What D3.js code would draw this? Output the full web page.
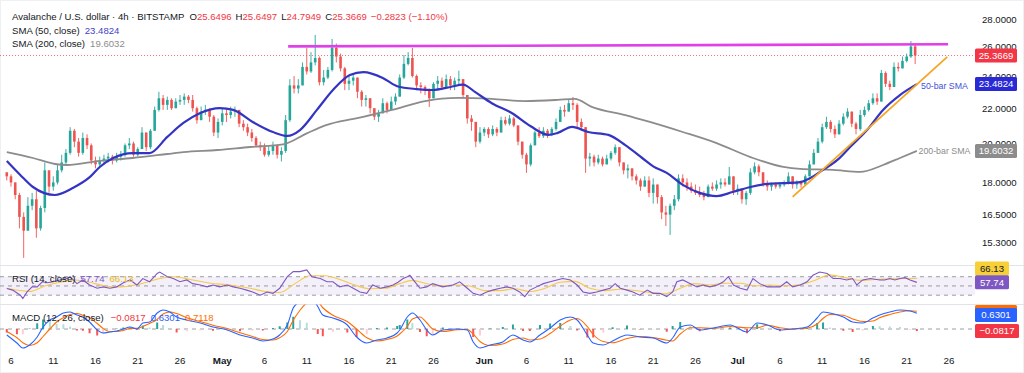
<!DOCTYPE html>
<html><head><meta charset="utf-8">
<script src="https://cdn.jsdelivr.net/npm/d3@7"></script>
<style>
body{margin:0;background:#fff;}
svg{display:block;font-family:"Liberation Sans",Arial,sans-serif;}
</style>
</head><body>
<svg id="c" width="1024" height="373"></svg>
<script>
// ---------------- DATA ----------------
const candleStartUTC = Date.UTC(2025,3,5,12);   // first 12h bar (Apr 5, 12:00)
const barHours = 12;
const firstOpen = 18.5;
const closes = [
18.3,18.0,17.4,16.4,15.8,16.9,17.2,15.9,16.8,18.6, 17.8,18.0,18.6,19.0,19.5,20.7,20.1,19.5,20.3,19.9,
19.1,18.9,19.1,19.2,19.3,19.1,19.3,19.4,19.9,20.0, 19.4,19.7,20.6,19.8,20.7,21.9,22.6,22.2,22.5,22.0,
22.4,22.5,22.7,22.5,22.0,21.3,21.8,21.9,21.5,20.6, 21.2,21.7,21.6,21.8,21.9,21.1,20.9,20.6,20.3,19.9,
19.8,19.4,19.6,19.9,19.4,19.6,21.3,23.4,23.2,23.4, 24.6,24.3,24.9,25.2,23.6,23.9,24.4,25.9,25.3,24.5,
23.5,23.7,23.9,23.0,22.5,22.6,22.0,21.5,21.7,22.3, 21.9,22.4,22.7,23.9,24.8,25.2,24.0,23.4,23.3,23.1,
22.6,23.5,23.7,23.3,23.8,23.4,23.7,23.8,22.8,21.4, 21.2,20.1,20.6,20.8,20.5,20.8,20.6,21.3,21.1,21.4,
21.0,20.1,19.4,18.9,19.9,20.6,20.4,20.7,20.5,20.8, 21.2,21.9,21.8,22.3,22.2,21.2,20.9,19.2,19.3,19.0,
19.2,18.9,19.2,19.5,19.8,19.0,18.6,18.7,18.3,18.1, 17.8,18.1,17.5,17.9,17.3,16.6,16.5,16.9,17.2,18.2,
18.0,17.8,17.6,17.5,17.4,17.3,17.8,17.7,17.9,18.0, 17.9,18.3,17.6,17.7,17.2,17.5,18.5,18.8,18.5,17.9,
17.8,17.9,17.8,17.9,18.0,18.3,17.9,18.0,17.9,18.3, 18.9,19.5,20.1,20.9,21.2,20.8,20.5,21.1,21.5,21.8,
21.1,20.8,21.6,21.9,22.3,22.6,22.4,24.2,23.5,23.3, 24.6,24.5,25.0,25.3,26.0,25.3669
];
const highs = [
18.5,18.4,18.0,17.5,16.6,17.3,17.5,17.6,16.9,19.0, 18.6,18.3,18.9,19.4,19.7,20.9,20.8,20.3,20.6,20.5,
20.0,19.3,19.3,19.4,19.5,19.4,19.5,19.6,20.0,20.3, 20.1,19.8,20.9,20.6,20.8,22.1,23.0,22.8,22.7,22.6,
22.6,22.8,22.9,22.8,22.8,22.1,22.1,22.2,22.0,21.6, 21.4,22.0,22.0,22.1,22.1,21.9,21.3,21.1,20.8,20.4,
20.1,20.0,19.9,20.1,19.9,19.8,21.6,23.8,24.0,23.8, 24.9,25.9,25.6,26.82,25.3,24.4,24.6,26.53,26.2,25.5,
24.6,24.0,24.1,23.9,23.1,22.8,22.6,22.0,21.9,22.6, 22.4,22.7,22.9,24.1,25.4,25.6,25.89,24.1,23.6,23.4,
23.2,23.6,24.0,23.9,24.1,24.0,23.9,24.35,23.8,22.8, 21.6,21.2,20.9,20.9,20.9,21.0,20.9,21.5,21.5,21.6,
21.5,21.0,20.1,19.5,20.0,20.7,20.9,20.9,20.8,20.9, 21.4,22.1,22.2,22.5,22.68,22.3,21.4,20.9,19.5,19.4,
19.4,19.3,19.4,19.6,19.95,19.8,19.0,18.9,18.7,18.4, 18.2,18.3,18.3,18.2,17.8,17.4,16.9,17.0,17.4,18.4,
18.4,18.2,18.0,17.9,17.8,17.6,17.9,18.0,18.1,18.2, 18.2,18.77,18.3,17.9,17.7,17.6,18.7,19.0,18.9,18.5,
18.1,18.0,18.0,18.0,18.1,18.5,18.3,18.1,18.1,18.4, 19.1,19.7,20.3,21.1,21.5,21.3,21.0,21.3,21.7,22.0,
21.8,21.2,21.9,22.1,22.5,22.9,22.9,24.4,24.3,23.7, 24.9,24.9,25.3,25.5,26.38,26.2
];
const lows = [
18.1,17.8,17.2,15.9,14.68,15.8,16.7,15.5,15.8,16.6, 17.5,17.6,17.9,18.5,18.9,19.4,19.8,19.3,19.4,19.7,
18.9,18.7,18.8,18.9,19.0,18.9,19.0,19.1,19.3,19.7, 19.3,19.3,19.7,19.6,19.7,20.7,21.8,21.9,21.9,21.9,
22.0,22.2,22.2,22.3,21.8,21.1,21.3,21.6,21.2,20.4, 20.3,21.0,21.2,21.4,21.5,20.9,20.7,20.4,20.1,19.8,
19.6,19.3,19.3,19.4,19.2,19.05,19.5,21.2,22.9,22.9, 23.4,24.1,24.2,24.7,23.4,23.4,23.8,24.3,24.9,24.3,
23.1,23.1,23.4,22.6,22.1,22.1,21.7,21.3,21.2,21.7, 21.7,21.9,22.2,22.7,23.8,24.7,23.9,23.1,22.9,22.8,
22.07,22.6,23.2,23.1,23.2,23.1,23.1,23.4,22.6,21.1, 20.7,19.8,20.0,20.4,20.3,20.4,20.4,20.6,21.0,21.0,
20.9,19.9,19.2,18.47,18.8,19.9,20.3,20.3,20.3,20.4, 20.7,21.2,21.5,21.8,21.9,20.9,20.7,18.47,18.8,18.8,
18.9,18.8,18.9,19.1,19.4,18.8,18.4,18.2,18.1,17.9, 17.6,17.8,17.3,17.0,17.0,16.3,16.0,15.62,16.7,17.1,
17.8,17.6,17.5,17.4,17.3,17.15,17.3,17.6,17.6,17.7, 17.8,17.9,17.4,17.4,17.0,16.94,17.4,18.4,18.3,17.8,
17.6,17.6,17.7,17.7,17.8,17.9,17.7,17.7,17.75,17.9, 18.3,18.9,19.5,20.0,20.8,20.6,20.3,20.5,21.0,21.4,
20.9,20.5,20.7,21.5,21.8,22.2,22.2,22.4,23.3,23.1, 23.3,24.3,24.5,24.9,25.2,24.79
];
const lastPrice = 25.3669;

// Moving averages (day offset from Apr 6 2025, value)
const sma50Days = [-0.5,1.1,2.6,5.2,7.3,9.35,10.5,12.1,14.4,16.4, 18.5,20.4,22.4,24.7,26.3,28.6,31.0,32.7,34.2,36.2,
  38.1,40.1,41.7,44.0,45.7,48.0,49.9,52.0,53.5,54.9, 56.9,59.3,61.5,63.6,64.7,66.4,68.3,70.7,72.7,74.7,
  76.0,77.6,79.5,81.5,83.5,85.4,87.5,89.5,91.4,93.4, 94.6,96.1,97.8,99.3,101.3,103.2,105.2,107.2];
const sma50Vals = [19.08,18.37,17.78,17.40,17.73,18.27,18.77,19.23,19.49,19.49, 20.36,21.14,21.72,22.01,21.90,21.20,20.63,20.41,20.74,21.9,
  23.11,24.07,24.26,23.88,23.35,23.17,23.11,23.3,23.45,22.99, 22.3,21.7,20.95,20.47,20.58,20.92,20.63,20.47,19.91,19.23,
  18.8,18.47,17.88,17.50,17.35,17.54,17.78,17.93,17.97,18.02, 18.22,18.62,19.13,19.81,20.74,21.90,22.80,23.4824];
const sma200Days = [-0.5,2.6,5.2,6.6,10.5,14.4,18.5,20.4,24.4,28.3, 32.2,35.0,37.2,41.1,45.1,49.0,52.9,56.9,60.8,64.7,
  66.7,68.8,72.7,75.6,79.5,83.5,87.5,91.4,93.4,97.3, 100.5,103.2,105.2,107.2];
const sma200Vals = [19.54,19.23,18.92,18.87,19.08,19.23,19.44,19.54,19.65,19.81, 19.95,20.55,21.0,21.43,21.90,22.43,22.62,22.56,22.43,22.50,
  22.56,22.07,21.60,21.20,20.63,20.02,19.28,18.77,18.67,18.62, 18.52,18.87,19.23,19.6032];

// Drawn trend lines
const resistanceDays = [32.8, 110.9];
const resistancePrices = [26.0, 26.15];
const supportDays = [92.5, 110.8];
const supportPrices = [17.31, 25.27];

// RSI (14) and its MA
const rsiDays = [-0.5,0.2,1.1,1.4,1.9,2.5,3.1,3.7,4.3,5.0, 5.8,6.6,7.0,7.8,8.5,9.3,10.2,10.9,11.7,12.5,
  13.3,14.1,14.9,15.6,16.4,17.3,17.6,18.5,19.2,20.0, 20.8,21.5,22.4,23.2,23.9,24.7,25.6,26.3,27.1,27.9,
  28.6,29.5,30.3,31.0,31.8,32.7,33.4,34.2,35.0,35.6, 36.6,37.4,38.1,38.9,39.8,40.5,41.3,42.1,42.8,43.7,
  44.5,45.2,45.8,46.4,46.9,47.2,47.8,48.4,49.2,49.9, 51.1,52.3,53.1,54.0,54.7,55.5,56.3,57.0,57.9,58.7,
  59.4,60.2,60.8,61.4,62.2,63.0,63.8,64.6,65.3,66.2, 67.0,67.7,68.5,69.3,70.1,70.9,71.5,72.1,72.9,73.6,
  74.4,75.3,76.0,76.8,77.6,78.3,78.8,79.5,80.4,81.2, 81.9,82.7,83.6,84.3,84.9,85.5,86.3,87.1,87.8,88.6,
  89.5,90.2,91.0,91.8,92.5,93.4,94.2,94.9,95.7,96.6, 97.3,98.1,98.9,99.6,100.1,100.8,101.7,102.8,103.4,104.0,
  104.6,105.2,105.8,106.4,107.2];
const rsiVals = [44.6,41,30,23,37,48,48,59,57,59, 63,66,70,55,63,52,45,48,45,48,
  57,63,52,66,59,77,80,70,66,59, 63,55,52,48,52,48,52,48,45,41,
  37,30,37,34,45,70,81,81,84.6,70, 66,59,59,48,52,45,37,34,52,45,
  48,52,58,66,70,73,59,45,48,55, 48,52,59,45,34,30,37,41,45,48,
  45,37,27,41,48,55,59,63,66,63, 52,37,34,37,41,45,55,45,41,37,
  30,41,34,34,27,37,59,63,55,48, 52,48,52,59,70,52,45,41,66,55,
  48,48,48,59,48,52,59,73,80,77, 66,66,63,66,52,63,66,63,63,66,
  63,66,68,63,57.74];
const rsiMaDays = [-0.5,1.1,2.2,4.0,5.8,7.6,9.3,11.1,12.9,14.7, 16.4,17.6,19.4,21.2,23.6,25.9,28.3,30.1,31.8,33.6,
  35.4,37.2,38.9,40.7,42.5,44.3,46.0,47.5,49.0,50.8, 52.5,54.3,56.1,57.9,59.6,61.4,63.2,65.0,66.7,68.5,
  70.3,72.1,73.8,75.6,77.4,79.2,80.9,82.7,84.5,86.3, 88.0,89.8,91.6,93.4,95.1,96.9,98.7,100.5,102.2,104.0,
  105.8,107.2];
const rsiMaVals = [45,40,38,50,58,63,58,50,48,52, 60,66,70,64,56,52,45,38,36,55,
  72,72,64,52,44,45,55,62,56,50, 52,50,40,40,44,38,45,58,60,45,
  40,43,40,36,33,45,55,52,56,56, 50,52,50,53,62,74,68,62,64,65,
  66,66.13];

// MACD (12, 26) and signal
const macdDays = [-0.5,0.7,1.4,2.2,3.1,3.8,4.6,5.4,6.2,7.0, 7.8,8.5,9.3,10.2,10.9,11.7,12.5,13.3,14.1,14.9,
  15.6,16.4,17.3,18.0,18.8,19.6,20.8,22.4,23.9,25.6, 27.1,28.6,29.8,31.0,31.8,32.7,33.4,34.2,35.0,35.7,
  36.3,36.9,38.1,39.8,40.9,42.1,43.3,44.5,45.7,46.0, 46.9,47.5,48.4,49.2,49.9,51.1,52.8,54.0,54.7,55.5,
  56.7,58.2,59.4,60.6,61.4,62.6,63.8,65.0,66.2,67.0, 68.2,68.9,70.1,71.2,72.9,74.4,76.0,77.6,78.3,79.2,
  80.4,81.5,83.1,85.1,87.1,88.3,89.5,91.0,92.5,94.2, 95.4,96.1,96.9,98.5,99.6,100.8,102.0,102.8,104.0,105.2,
  106.4,107.2];
const macdVals = [-0.24,-0.56,-0.76,-0.64,-0.32,0.08,0.36,0.48,0.64,0.68, 0.56,0.48,0.28,-0.04,-0.16,-0.12,-0.08,0.0,0.08,0.0,
  0.24,0.28,0.64,0.76,0.68,0.48,0.36,0.24,0.08,-0.04, -0.24,-0.36,-0.48,-0.40,-0.24,0.16,0.84,1.1,1.3,1.2,
  0.9,0.56,0.44,0.16,-0.32,-0.56,-0.44,-0.36,-0.16,-0.04, 0.48,0.64,0.36,-0.04,-0.24,-0.04,0.0,-0.04,-0.52,-0.76,
  -0.64,-0.52,-0.24,-0.44,-0.52,-0.24,0.04,0.36,0.48,0.36, -0.24,-0.56,-0.64,-0.48,-0.24,-0.32,-0.36,-0.56,-0.36,0.08,
  0.16,-0.04,0.04,0.16,-0.12,0.24,0.16,-0.04,0.0,0.08, 0.44,0.68,0.64,0.48,0.28,0.24,0.44,0.56,0.68,0.76,
  0.72,0.6301];
const signalVals = [-0.10,-0.35,-0.55,-0.66,-0.55,-0.30,0.0,0.28,0.45,0.58, 0.62,0.55,0.45,0.22,0.02,-0.10,-0.10,-0.06,0.02,0.03,
  0.10,0.22,0.38,0.60,0.68,0.62,0.45,0.30,0.15,0.02, -0.15,-0.30,-0.42,-0.44,-0.35,-0.10,0.35,0.75,1.05,1.2,
  1.1,0.85,0.55,0.30,0.0,-0.35,-0.48,-0.42,-0.28,-0.20, 0.10,0.40,0.48,0.25,0.0,-0.10,-0.03,-0.02,-0.20,-0.50,
  -0.66,-0.60,-0.42,-0.36,-0.44,-0.40,-0.18,0.12,0.36,0.42, 0.10,-0.22,-0.50,-0.55,-0.38,-0.30,-0.34,-0.45,-0.48,-0.20,
  0.05,0.05,0.02,0.10,0.05,0.05,0.15,0.05,0.0,0.03, 0.20,0.42,0.58,0.55,0.40,0.30,0.32,0.45,0.58,0.68,
  0.73,0.7118];

// Axis ticks
const priceTicks = [28, 26, 24, 22, 20, 18, 16.5, 15.3];
const xTickDates = ["2025-04-06","2025-04-11","2025-04-16","2025-04-21","2025-04-26","2025-05-01","2025-05-06","2025-05-11",
  "2025-05-16","2025-05-21","2025-05-26","2025-06-01","2025-06-06","2025-06-11","2025-06-16","2025-06-21","2025-06-26",
  "2025-07-01","2025-07-06","2025-07-11","2025-07-16","2025-07-21","2025-07-26"];
const xTickLabels = ["6","11","16","21","26","May","6","11","16","21","26","Jun","6","11","16","21","26","Jul","6","11","16","21","26"];

// Header values
const ohlc = {O:"25.6496", H:"25.6497", L:"24.7949", C:"25.3669"};
const changeText = "\u22120.2823 (\u22121.10%)";

// ---------------- DRAW ----------------
const svg = d3.select("#c");
const t0 = Date.UTC(2025,3,6);
const DAY = 864e5;
const dd = d => new Date(t0 + d*DAY);

const plotRight = 975;
const x = d3.scaleUtc().domain([new Date(Date.UTC(2025,3,6)), new Date(Date.UTC(2025,6,26))]).range([11, 948.95]);
const yP = d3.scaleLog().domain([14.40, 28.69]).range([265, 10]);
const yR = d3.scaleLinear().domain([30, 70]).range([295.2, 276.7]);
const yM = d3.scaleLinear().domain([0, 1]).range([329, 304]);

const C = {up:"#26a69a", down:"#ef5350", text:"#131722", sma50:"#3434c4", sma200:"#8c8c8c",
  magenta:"#e040e8", orange:"#f5a623", rsi:"#7e57c2", rsiMa:"#f7c948", macd:"#2962ff", signal:"#ff6d00", red:"#f23645"};

const defs = svg.append("defs");
defs.append("clipPath").attr("id","cp").append("rect").attr("x",0).attr("y",9).attr("width",plotRight).attr("height",256);
defs.append("clipPath").attr("id","cr").append("rect").attr("x",0).attr("y",265.5).attr("width",plotRight).attr("height",38.5);
defs.append("clipPath").attr("id","cm").append("rect").attr("x",0).attr("y",304.5).attr("width",plotRight).attr("height",46);

// frame / separators
svg.append("rect").attr("x",0.5).attr("y",0.5).attr("width",1023).attr("height",372).attr("fill","none").attr("stroke","#eef0f3");
[265.5, 304.5].forEach(yy => svg.append("line").attr("x1",0).attr("x2",1024).attr("y1",yy).attr("y2",yy).attr("stroke","#e0e3eb"));

// ---- price panel
const gp = svg.append("g").attr("clip-path","url(#cp)");

// last price dotted line
gp.append("line").attr("x1",0).attr("x2",plotRight).attr("y1",yP(lastPrice)).attr("y2",yP(lastPrice))
  .attr("stroke",C.red).attr("stroke-width",1).attr("stroke-dasharray","1,2").attr("opacity",0.7);

const bars = closes.map((c,i) => {
  const o = i ? closes[i-1] : firstOpen;
  return {t:new Date(candleStartUTC + i*barHours*3600e3), o, c,
    h:Math.max(highs[i], o, c), l:Math.min(lows[i], o, c)};
});
const bw = 2.6;
const cg = gp.append("g");
cg.selectAll("line").data(bars).join("line")
  .attr("x1",d=>x(d.t)).attr("x2",d=>x(d.t)).attr("y1",d=>yP(d.h)).attr("y2",d=>yP(d.l))
  .attr("stroke",d=>d.c>=d.o?C.up:C.down).attr("stroke-width",0.9);
cg.selectAll("rect").data(bars).join("rect")
  .attr("x",d=>x(d.t)-bw/2).attr("width",bw)
  .attr("y",d=>yP(Math.max(d.o,d.c))).attr("height",d=>Math.max(0.8, yP(Math.min(d.o,d.c))-yP(Math.max(d.o,d.c))))
  .attr("fill",d=>d.c>=d.o?C.up:C.down);

const pline = d3.line().x(d=>x(dd(d[0]))).y(d=>yP(d[1])).curve(d3.curveMonotoneX);
gp.append("path").attr("d",pline(d3.zip(sma200Days,sma200Vals))).attr("fill","none").attr("stroke",C.sma200).attr("stroke-width",1.8);
gp.append("path").attr("d",pline(d3.zip(sma50Days,sma50Vals))).attr("fill","none").attr("stroke",C.sma50).attr("stroke-width",2.2);

const straight = d3.line().x(d=>x(dd(d[0]))).y(d=>yP(d[1]));
gp.append("path").attr("d",straight(d3.zip(resistanceDays,resistancePrices))).attr("stroke",C.magenta).attr("stroke-width",2.6).attr("fill","none");
gp.append("path").attr("d",straight(d3.zip(supportDays,supportPrices))).attr("stroke",C.orange).attr("stroke-width",1.8).attr("fill","none");

// annotations
svg.append("text").attr("x",921).attr("y",yP(sma50Vals[sma50Vals.length-1])+4.5).attr("font-size",8.8).attr("fill","#3f51d8").text("50-bar SMA");
svg.append("text").attr("x",918.5).attr("y",yP(sma200Vals[sma200Vals.length-1])+3.2).attr("font-size",8.8).attr("fill","#8c8c8c").text("200-bar SMA");

// right price axis
const axP = svg.append("g").attr("transform",`translate(${plotRight},0)`)
  .call(d3.axisRight(yP).tickValues(priceTicks).tickSize(0).tickPadding(7).tickFormat(d3.format(".4f")));
axP.select(".domain").remove();
axP.selectAll("text").attr("font-size",9.6).attr("fill",C.text).attr("font-family",null);

function tag(yc, txt, bg, fg, w){
  svg.append("rect").attr("x",plotRight).attr("y",yc-7).attr("width",w||42).attr("height",14).attr("rx",1.5).attr("fill",bg);
  svg.append("text").attr("x",plotRight+(w||42)/2).attr("y",yc+3.4).attr("text-anchor","middle").attr("font-size",9.6).attr("fill",fg).text(txt);
}
tag(yP(lastPrice), "25.3669", C.red, "#fff");
tag(yP(sma50Vals[sma50Vals.length-1]), "23.4824", "#2929d6", "#fff");
tag(yP(sma200Vals[sma200Vals.length-1]), "19.6032", "#8c8c8c", "#fff");

// ---- RSI panel
const gr = svg.append("g").attr("clip-path","url(#cr)");
gr.append("rect").attr("x",0).attr("width",plotRight).attr("y",yR(70)).attr("height",yR(30)-yR(70)).attr("fill",C.rsi).attr("opacity",0.09);
[70,50,30].forEach(v => gr.append("line").attr("x1",0).attr("x2",plotRight).attr("y1",yR(v)).attr("y2",yR(v))
  .attr("stroke","#787b86").attr("stroke-dasharray","4,4").attr("stroke-width",0.9).attr("opacity",0.8));
const rline = d3.line().x(d=>x(dd(d[0]))).y(d=>yR(d[1]));
gr.append("path").attr("d",rline.curve(d3.curveMonotoneX)(d3.zip(rsiMaDays,rsiMaVals))).attr("fill","none").attr("stroke",C.rsiMa).attr("stroke-width",1.1);
gr.append("path").attr("d",d3.line().x(d=>x(dd(d[0]))).y(d=>yR(d[1]))(d3.zip(rsiDays,rsiVals))).attr("fill","none").attr("stroke",C.rsi).attr("stroke-width",1.1);

// ---- MACD panel
const gm = svg.append("g").attr("clip-path","url(#cm)");
gm.append("line").attr("x1",0).attr("x2",plotRight).attr("y1",yM(0)).attr("y2",yM(0)).attr("stroke","#787b86").attr("stroke-dasharray","4,4").attr("stroke-width",0.9).attr("opacity",0.8);
const hist = macdVals.map((m,i)=>({d:macdDays[i], v:m - signalVals[i]}));
gm.selectAll("rect.h").data(hist).join("rect").attr("class","h")
  .attr("x",d=>x(dd(d.d))-1).attr("width",2)
  .attr("y",d=>Math.min(yM(0),yM(d.v))).attr("height",d=>Math.abs(yM(d.v)-yM(0)))
  .attr("fill",(d,i)=>{const p = i? hist[i-1].v : d.v;
    return d.v>=0 ? (d.v>=p ? "#26a69a" : "#b2dfdb") : (d.v<=p ? "#ff5252" : "#ffcdd2");});
const mline = d3.line().x(d=>x(dd(d[0]))).y(d=>yM(d[1])).curve(d3.curveMonotoneX);
gm.append("path").attr("d",mline(d3.zip(macdDays,signalVals))).attr("fill","none").attr("stroke",C.signal).attr("stroke-width",1.1);
gm.append("path").attr("d",mline(d3.zip(macdDays,macdVals))).attr("fill","none").attr("stroke",C.macd).attr("stroke-width",1.1);

// indicator tags
tag(yR(66.13)-10, "66.13", "#f7d038", "#131722", 34);
tag(yR(57.74), "57.74", C.rsi, "#fff", 34);
svg.append("rect").attr("x",plotRight).attr("y",305).attr("width",42).attr("height",14).attr("rx",1.5).attr("fill",C.signal);
tag(315, "0.6301", C.macd, "#fff");
tag(yM(-0.0817), "\u22120.0817", C.red, "#fff", 44);

// ---- x axis
const xt = svg.append("g");
xTickDates.forEach((s,i) => {
  const lab = xTickLabels[i];
  xt.append("text").attr("x",x(new Date(s+"T00:00:00Z"))).attr("y",363.5).attr("text-anchor","middle")
    .attr("font-size",9.8).attr("fill",C.text).attr("font-weight",/^[A-Z]/.test(lab)?"bold":"normal").text(lab);
});

// ---- header legends
const fs = 9.6;
const h1 = svg.append("text").attr("x",12).attr("y",20).attr("font-size",fs).attr("fill",C.text);
h1.append("tspan").text("Avalanche / U.S. dollar \u00b7 4h \u00b7 BITSTAMP");
Object.entries(ohlc).forEach(([k,v]) => {
  h1.append("tspan").attr("dx",k==="O"?5:4).text(k);
  h1.append("tspan").attr("fill",C.red).text(v);
});
h1.append("tspan").attr("dx",4).attr("fill",C.red).text(changeText);

const h2 = svg.append("text").attr("x",12).attr("y",33.5).attr("font-size",fs).attr("fill",C.text);
h2.append("tspan").text("SMA (50, close)");
h2.append("tspan").attr("dx",5).attr("fill","#3f3fc8").text("23.4824");
const h3 = svg.append("text").attr("x",12).attr("y",46.5).attr("font-size",fs).attr("fill",C.text);
h3.append("tspan").text("SMA (200, close)");
h3.append("tspan").attr("dx",5).attr("fill","#8c8c8c").text("19.6032");

const r1 = svg.append("text").attr("x",12).attr("y",281.5).attr("font-size",fs).attr("fill",C.text);
r1.append("tspan").text("RSI (14, close)");
r1.append("tspan").attr("dx",5).attr("fill",C.rsi).text("57.74");
r1.append("tspan").attr("dx",5).attr("fill","#e8b820").text("66.13");

const m1 = svg.append("text").attr("x",12).attr("y",320.5).attr("font-size",fs).attr("fill",C.text);
m1.append("tspan").text("MACD (12, 26, close)");
m1.append("tspan").attr("dx",7).attr("fill",C.red).text("\u22120.0817");
m1.append("tspan").attr("dx",5).attr("fill",C.macd).text("0.6301");
m1.append("tspan").attr("dx",5).attr("fill",C.signal).text("0.7118");
</script>
</body></html>
